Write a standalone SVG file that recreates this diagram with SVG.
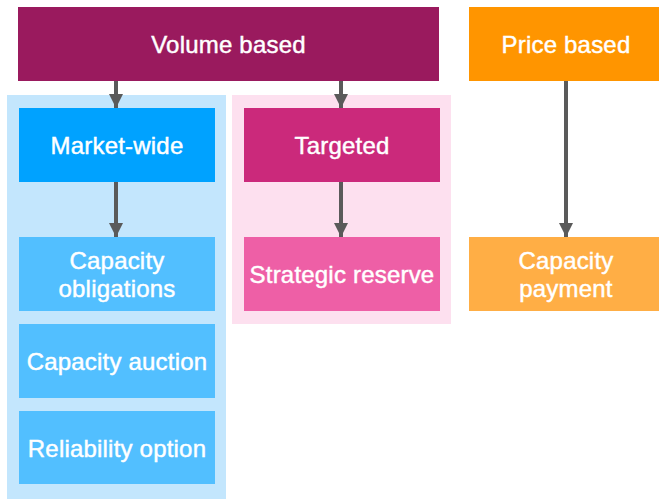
<svg xmlns="http://www.w3.org/2000/svg" width="659" height="499" viewBox="0 0 659 499">
<style>
text{font-family:"Liberation Sans",Arial,Helvetica,sans-serif;font-size:24px;letter-spacing:0.2px;fill:#fff;text-anchor:middle;stroke:#fff;stroke-width:0.45}
.conn line{stroke:#5a5a5a;stroke-width:4}
</style>
<defs>
<marker id="ah" markerUnits="userSpaceOnUse" markerWidth="14" markerHeight="14" refX="14" refY="7" orient="auto" viewBox="0 0 14 14">
<path d="M0,0 L14,7 L0,14 Z" fill="#5a5a5a"/>
</marker>
</defs>
<rect width="659" height="499" fill="#fff"/>
<g id="group-marketwide"><rect x="7" y="95" width="219" height="404" fill="#c3e6fd"/></g>
<g id="group-targeted"><rect x="232" y="95" width="219" height="229" fill="#fde0ef"/></g>
<g id="volume-based"><rect x="18" y="7" width="421" height="74" fill="#9a1a5e"/><text x="228.5" y="53">Volume based</text></g>
<g id="price-based"><rect x="469" y="7" width="194" height="74" fill="#ff9500"/><text x="566" y="53">Price based</text></g>
<g id="market-wide"><rect x="19" y="108" width="196" height="74" fill="#00a2ff"/><text x="117" y="154">Market-wide</text></g>
<g id="targeted"><rect x="244" y="108" width="196" height="74" fill="#cb297b"/><text x="342" y="154">Targeted</text></g>
<g id="capacity-obligations"><rect x="19" y="237" width="196" height="74" fill="#52bfff"/><text x="117" y="269">Capacity</text><text x="117" y="297">obligations</text></g>
<g id="strategic-reserve"><rect x="244" y="237" width="196" height="74" fill="#ee5fa6"/><text x="342" y="283">Strategic reserve</text></g>
<g id="capacity-auction"><rect x="19" y="324" width="196" height="74" fill="#52bfff"/><text x="117" y="370">Capacity auction</text></g>
<g id="reliability-option"><rect x="19" y="411" width="196" height="73" fill="#52bfff"/><text x="117" y="457">Reliability option</text></g>
<g id="capacity-payment"><rect x="469" y="237" width="194" height="74" fill="#ffae45"/><text x="566" y="269">Capacity</text><text x="566" y="297">payment</text></g>
<g class="conn" id="connectors">
<line x1="116" y1="81" x2="116" y2="108" marker-end="url(#ah)"/>
<line x1="341" y1="81" x2="341" y2="108" marker-end="url(#ah)"/>
<line x1="116" y1="182" x2="116" y2="237" marker-end="url(#ah)"/>
<line x1="341" y1="182" x2="341" y2="237" marker-end="url(#ah)"/>
<line x1="566" y1="81" x2="566" y2="237" marker-end="url(#ah)"/>
</g>
</svg>
